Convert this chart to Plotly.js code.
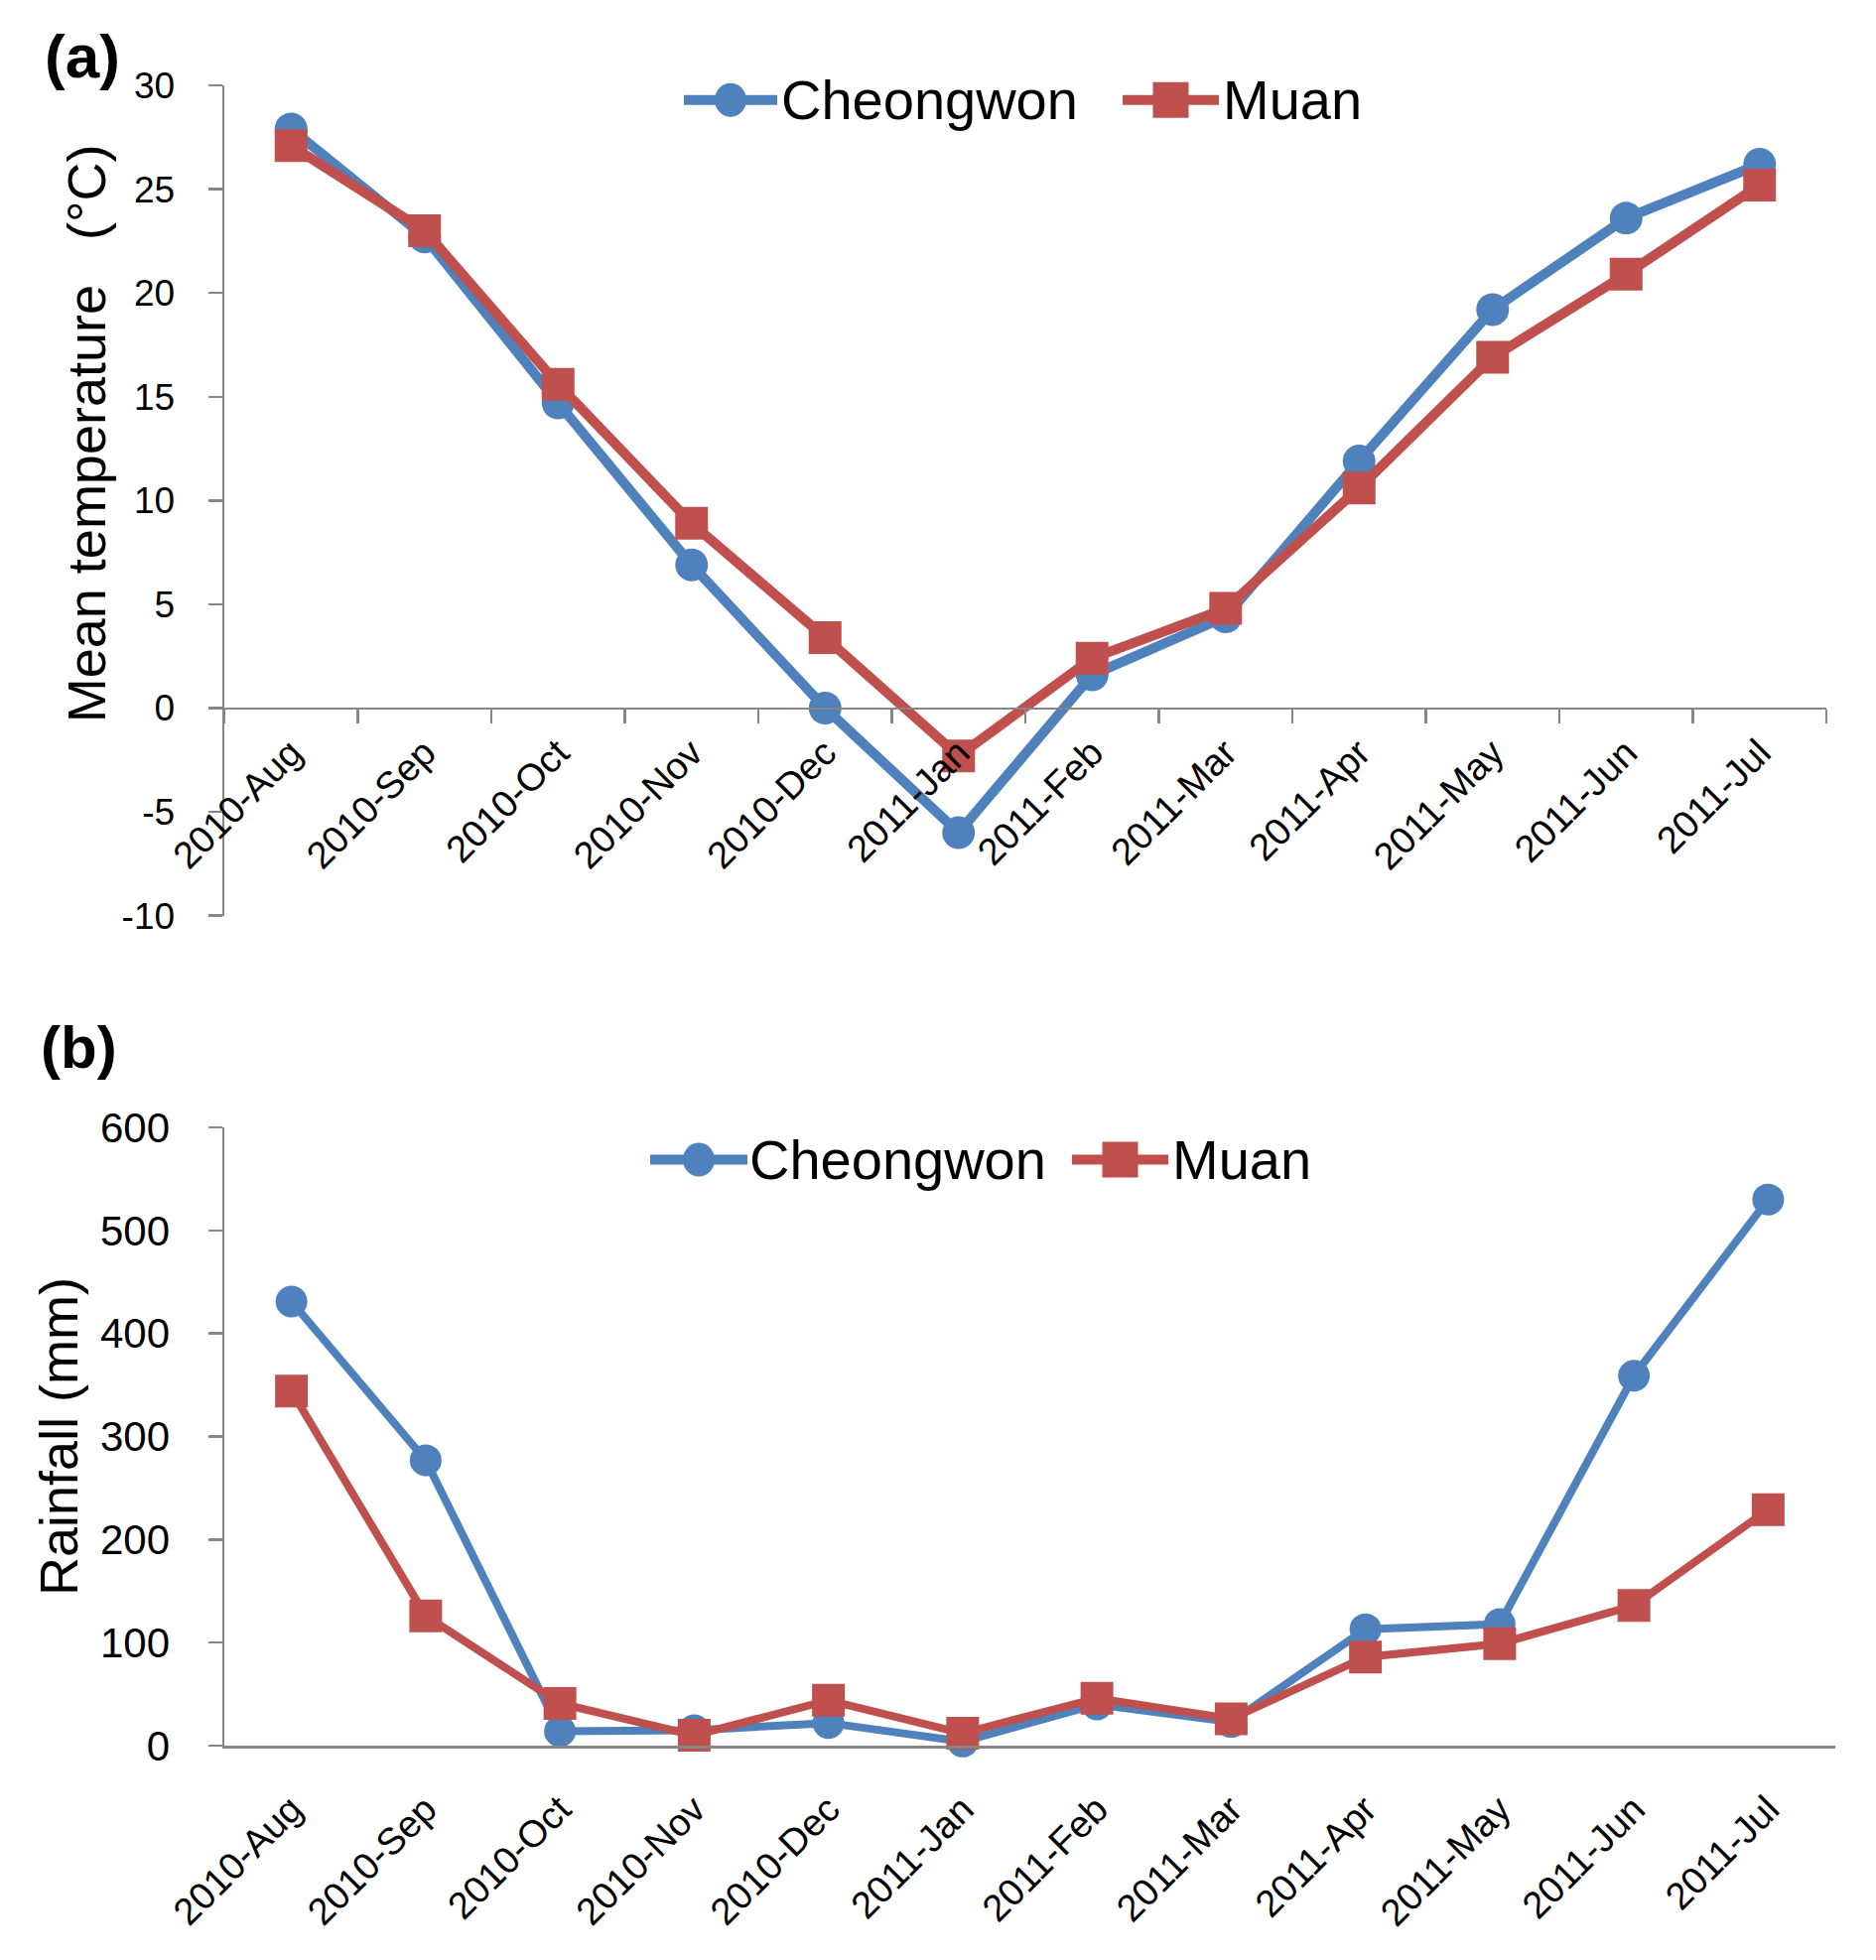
<!DOCTYPE html>
<html>
<head>
<meta charset="utf-8">
<script src="https://cdn.plot.ly/plotly-3.0.1.min.js"></script>
<style>
  html, body { margin: 0; padding: 0; background: #ffffff; }
  #chart { width: 1890px; height: 1975px; }
</style>
</head>
<body>
<div id="chart"></div>
<script>
// ---------------- data ----------------
const categories = ['2010-Aug', '2010-Sep', '2010-Oct', '2010-Nov', '2010-Dec', '2011-Jan',
                    '2011-Feb', '2011-Mar', '2011-Apr', '2011-May', '2011-Jun', '2011-Jul'];
const seriesNames = ['Cheongwon', 'Muan'];

const tempCheongwon = [27.9, 22.7, 14.7, 6.9, 0.0, -6.0, 1.6, 4.4, 11.9, 19.2, 23.6, 26.2];
const tempMuan      = [27.1, 23.0, 15.6, 8.9, 3.4, -2.3, 2.4, 4.8, 10.6, 16.9, 20.9, 25.2];

const rainCheongwon = [431, 277, 14, 15, 22, 4, 40, 23, 113, 118, 359, 530];
const rainMuan      = [344, 126, 41, 10, 44, 12, 46, 26, 86, 99, 136, 229];

const tempTicks = [-10, -5, 0, 5, 10, 15, 20, 25, 30];
const rainTicks = [0, 100, 200, 300, 400, 500, 600];

// ---------------- style ----------------
const W = 1890, H = 1975;
const px = x => x / W;
const py = y => 1 - y / H;
const BLUE = '#4F81BD';
const RED = '#C0504D';
const GREY = '#868686';
const FONT = 'Liberation Sans, Arial, sans-serif';

function trace(y, name, color, symbol, size, lw, xa, ya) {
  return {
    type: 'scatter', mode: 'lines+markers',
    x: categories, y: y, name: name,
    xaxis: xa, yaxis: ya,
    cliponaxis: false,
    line: { color: color, width: lw },
    marker: { color: color, symbol: symbol, size: size, line: { width: 0 } },
    hoverinfo: 'x+y+name'
  };
}

const data = [
  trace(tempCheongwon, seriesNames[0], BLUE, 'circle', 33, 10, 'x', 'y'),
  trace(tempMuan, seriesNames[1], RED, 'square', 33, 10, 'x', 'y'),
  trace(rainCheongwon, seriesNames[0], BLUE, 'circle', 32, 8, 'x2', 'y2'),
  trace(rainMuan, seriesNames[1], RED, 'square', 33, 8, 'x2', 'y2')
];

const topY0 = 86, topY1 = 922.7;        // pixel rows of 30 and -10
const botY0 = 1136, botY1 = 1759;       // pixel rows of 600 and 0
const zeroRow = topY0 + (topY1 - topY0) * (30 / 40);

const NB = '\u00a0';
const tempTitle = '\u200b' + NB.repeat(9) + 'Mean temperature' + NB + NB + NB + '(°C)';

const legendShapes = [];
const legendAnn = [];
function legendItem(xl, xr, yc, color, kind, textX, label) {
  legendShapes.push({
    type: 'line', xref: 'paper', yref: 'paper',
    x0: px(xl), x1: px(xr), y0: py(yc), y1: py(yc),
    line: { color: color, width: 10 }
  });
  const xc = (xl + xr) / 2;
  const half = kind === 'circle' ? 16 : 18;
  legendShapes.push({
    type: kind === 'circle' ? 'circle' : 'rect',
    xref: 'paper', yref: 'paper',
    xsizemode: 'pixel', ysizemode: 'pixel',
    xanchor: px(xc), yanchor: py(yc),
    x0: -half, x1: half, y0: -half - (kind === 'circle' ? 1 : 0), y1: half + (kind === 'circle' ? 1 : 0),
    fillcolor: color, line: { width: 0 }
  });
  legendAnn.push({
    xref: 'paper', yref: 'paper', x: px(textX), y: py(yc),
    xanchor: 'left', yanchor: 'middle', showarrow: false,
    text: label, font: { family: FONT, size: 56, color: '#000' }
  });
}
legendItem(689, 783, 100.7, BLUE, 'circle', 785, seriesNames[0]);
legendItem(1131, 1228, 100.7, RED, 'rect', 1230, seriesNames[1]);
legendItem(655, 753, 1168.5, BLUE, 'circle', 753, seriesNames[0]);
legendItem(1080, 1177, 1168.5, RED, 'rect', 1179, seriesNames[1]);

const axisCommon = {
  showgrid: false, zeroline: false, showline: true,
  linecolor: GREY, linewidth: 2.5,
  ticks: 'outside', ticklen: 14, tickwidth: 2.5, tickcolor: GREY,
  tickfont: { family: FONT, color: '#000' },
  fixedrange: true, automargin: false
};

const layout = {
  width: W, height: H,
  margin: { l: 0, r: 0, t: 0, b: 0, autoexpand: false },
  paper_bgcolor: '#ffffff', plot_bgcolor: '#ffffff',
  showlegend: false,
  font: { family: FONT, color: '#000' },
  xaxis: Object.assign({}, axisCommon, {
    type: 'category', domain: [px(226), px(1840)], range: [-0.5, 11.5],
    anchor: 'free', position: py(zeroRow), side: 'bottom',
    tickson: 'boundaries', tickangle: -45, ticklabelstandoff: 6,
    tickfont: { family: FONT, size: 38, color: '#000' }
  }),
  yaxis: Object.assign({}, axisCommon, {
    domain: [py(topY1), py(topY0)], range: [-10, 30], anchor: 'x',
    tickmode: 'array', tickvals: tempTicks, ticktext: tempTicks.map(String),
    ticklabelstandoff: 26,
    tickfont: { family: FONT, size: 37, color: '#000' },
    title: { text: tempTitle, font: { family: FONT, size: 54, color: '#000' } }
  }),
  xaxis2: Object.assign({}, axisCommon, {
    type: 'category', domain: [px(226), px(1849)], range: [-0.5, 11.5],
    anchor: 'y2', ticks: '', tickangle: -45, ticklabelstandoff: 24,
    tickfont: { family: FONT, size: 38, color: '#000' }
  }),
  yaxis2: Object.assign({}, axisCommon, {
    domain: [py(botY1), py(botY0)], range: [0, 600], anchor: 'x2',
    tickmode: 'array', tickvals: rainTicks, ticktext: rainTicks.map(String),
    ticklabelstandoff: 30,
    tickfont: { family: FONT, size: 42, color: '#000' },
    title: { text: 'Rainfall (mm)', font: { family: FONT, size: 54, color: '#000' }, standoff: 5 }
  }),
  shapes: legendShapes,
  annotations: legendAnn.concat([
    { xref: 'paper', yref: 'paper', x: px(83), y: py(57), xanchor: 'center', yanchor: 'middle',
      showarrow: false, text: '<b>(a)</b>', font: { family: FONT, size: 62, color: '#000' } },
    { xref: 'paper', yref: 'paper', x: px(79), y: py(1055), xanchor: 'center', yanchor: 'middle',
      showarrow: false, text: '<b>(b)</b>', font: { family: FONT, size: 60, color: '#000' } }
  ])
};

Plotly.newPlot('chart', data, layout, { displayModeBar: false, responsive: false, staticPlot: true });
</script>
</body>
</html>
